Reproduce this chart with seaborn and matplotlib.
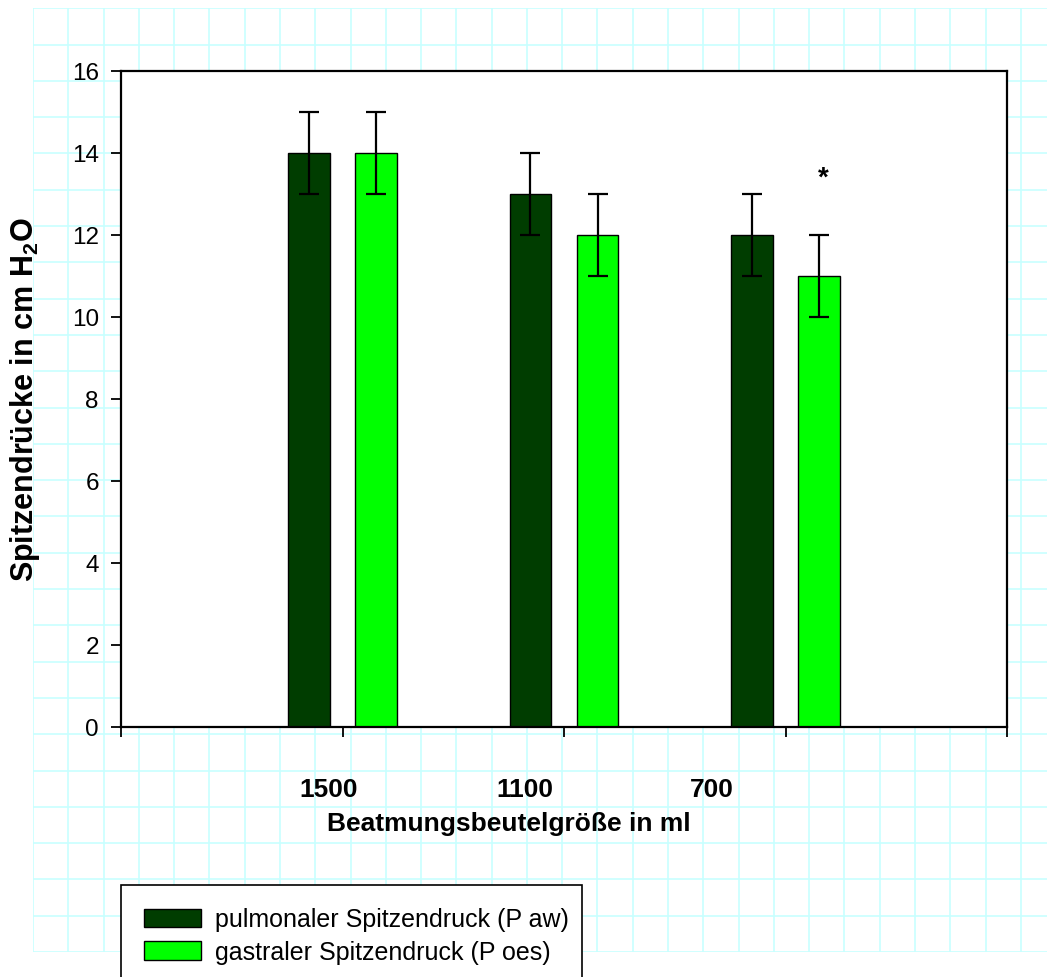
import numpy as np
import pandas as pd
import matplotlib
matplotlib.use("Agg")
import matplotlib.pyplot as plt
import seaborn as sns
from matplotlib.patches import Patch

# ---------------- data ----------------
categories = ["1500", "1100", "700"]
series_names = ["pulmonaler Spitzendruck (P aw)", "gastraler Spitzendruck (P oes)"]
pulmonal = [14, 13, 12]
gastral = [14, 12, 11]
pulmonal_err = [1, 1, 1]
gastral_err = [1, 1, 1]
gastral_sig = ["", "", "*"]
sig_level = 13.4
yticks = [0, 2, 4, 6, 8, 10, 12, 14, 16]
colors = ["#003d00", "#00ff00"]
xlabel = "Beatmungsbeutelgröße in ml"
ylabel = r"Spitzendrücke in cm H$_\mathbf{2}$O"

# ---------------- style ----------------
sns.set_theme(style="white")
plt.rcParams["font.family"] = ["Liberation Sans", "DejaVu Sans"]
plt.rcParams["mathtext.fontset"] = "custom"
plt.rcParams["mathtext.rm"] = "Liberation Sans"
plt.rcParams["mathtext.bf"] = "Liberation Sans:bold"
plt.rcParams["text.color"] = "black"

W, H = 1047, 978
fig = plt.figure(figsize=(W / 100, H / 100), dpi=100)
fig.patch.set_facecolor("white")

# background sheet grid
bg = fig.add_axes([33 / W, (H - 953) / H, 1 - 33 / W, (953 - 9) / H], zorder=0)
bg.set_xlim(0, W - 33)
bg.set_ylim(0, 944)
bg.set_xticks(np.arange(0, W - 33 + 1, 35.28))
bg.set_yticks(np.arange(0, 945, 36.3))
bg.grid(True, color="#c8ffff", lw=1.2)
bg.tick_params(length=0, labelbottom=False, labelleft=False)
for s in bg.spines.values():
    s.set_visible(False)
bg.set_facecolor("white")

# main axes
ax = fig.add_axes([121 / W, (H - 728) / H, 886 / W, 656 / H], zorder=1)
ax.set_facecolor("white")

df = pd.DataFrame({
    "Beutel": categories * 2,
    "Serie": [series_names[0]] * len(categories) + [series_names[1]] * len(categories),
    "Druck": pulmonal + gastral,
})

sns.barplot(data=df, x="Beutel", y="Druck", hue="Serie", order=categories,
            hue_order=series_names, palette=colors, saturation=1,
            width=0.605, gap=0.388, edgecolor="black", linewidth=1,
            errorbar=None, legend=False, ax=ax)

for cont, errs in zip(ax.containers, [pulmonal_err, gastral_err]):
    xs = [p.get_x() + p.get_width() / 2 for p in cont]
    ys = [p.get_height() for p in cont]
    ax.errorbar(xs, ys, yerr=errs, fmt="none", ecolor="black",
                elinewidth=1.6, capsize=7, capthick=1.6, zorder=3)

for p, mark in zip(ax.containers[1], gastral_sig):
    if mark:
        ax.text(p.get_x() + p.get_width() / 2 + 0.02, sig_level, mark,
                ha="center", va="center", fontsize=20, fontweight="bold")

ax.set_xlim(-1, len(categories))
ax.set_ylim(yticks[0], yticks[-1])
ax.set_yticks(yticks)
ax.set_yticklabels([str(t) for t in yticks])

pos = np.arange(len(categories))
ax.set_xticks(np.arange(-1, len(categories) + 1))
ax.set_xticklabels([])
label_shift = [-0.061, -0.176, -0.332]
ax.set_xticks(pos + np.array(label_shift), minor=True)
ax.set_xticklabels(categories, minor=True)
for lbl in ax.get_xticklabels(minor=True):
    lbl.set_fontweight("bold")

ax.tick_params(axis="y", which="major", direction="out", left=True, length=7,
               width=1.3, color="black", labelsize=17.5, pad=9, labelcolor="black")
ax.tick_params(axis="x", which="major", direction="out", bottom=True, length=7,
               width=1.3, color="black")
ax.tick_params(axis="x", which="minor", bottom=True, length=0, labelsize=19,
               pad=36, labelcolor="black")

for s in ax.spines.values():
    s.set_visible(True)
    s.set_color("black")
    s.set_linewidth(1.6)

ax.set_xlabel(xlabel, fontsize=19, fontweight="bold", color="black")
ax.set_ylabel(ylabel, fontsize=22, fontweight="bold", color="black")
ax.xaxis.set_label_coords((509 - 121) / 886, -(812 - 728) / 656)
ax.yaxis.set_label_coords(-(121 - 42) / 886, 0.5)

handles = [Patch(facecolor=c, edgecolor="black", linewidth=1) for c in colors]
leg = fig.legend(handles, series_names, loc="upper left",
                 bbox_to_anchor=(121 / W, 0, 461 / W, 1 - 886 / H),
                 mode="expand", fontsize=18, frameon=True, fancybox=False,
                 framealpha=1, edgecolor="black", borderpad=0.9,
                 labelspacing=0.35, handlelength=2.3, handleheight=0.76,
                 handletextpad=0.56, borderaxespad=0)
leg.get_frame().set_linewidth(1.2)
leg.set_zorder(5)

fig.savefig("out.png", dpi=100, facecolor="white")
